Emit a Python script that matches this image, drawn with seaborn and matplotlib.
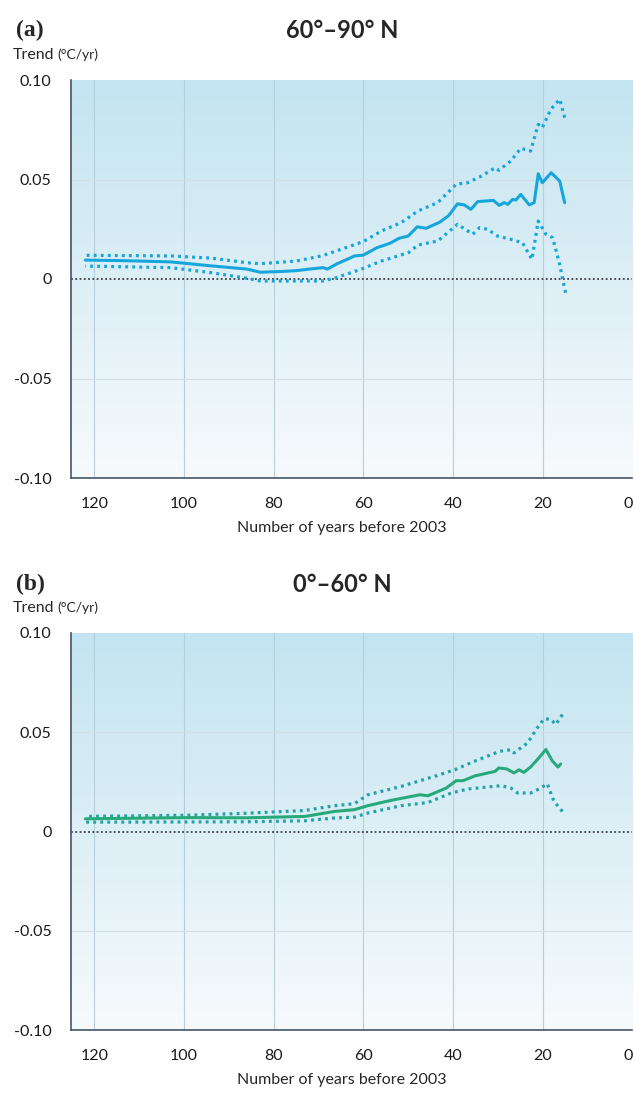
import numpy as np
import matplotlib
matplotlib.use("Agg")
import matplotlib.pyplot as plt
from matplotlib.colors import LinearSegmentedColormap
import seaborn as sns

# ---- data (years before 2003, trend in degC/yr) ----
a_mid_years = [122, 113, 103, 94, 86, 83, 78, 75, 72, 69, 68, 66, 63, 62, 60, 57, 54, 52, 50, 48,
               46, 43, 41, 39, 37.5, 36, 34.5, 31, 29.7, 28.6, 27.8, 26.7, 26, 24.9, 23, 21.9,
               21.0, 20.1, 18.1, 16.2, 15.1]
a_mid = [0.0095, 0.0092, 0.0086, 0.0066, 0.0050, 0.0034, 0.0038, 0.0042, 0.0050, 0.0057, 0.0050,
         0.0075, 0.0105, 0.0116, 0.0120, 0.0157, 0.0180, 0.0205, 0.0216, 0.0262, 0.0255, 0.0285,
         0.0318, 0.0378, 0.0372, 0.0350, 0.0389, 0.0395, 0.0370, 0.0384, 0.0375, 0.0400, 0.0397,
         0.0425, 0.0372, 0.0384, 0.0529, 0.0484, 0.0534, 0.0492, 0.0383]

a_hi_years = [122, 103, 94, 86, 83, 75, 69, 65, 60, 56, 51.6, 47.8, 43.4, 39.3, 36.7, 33.6, 30.6,
              29.8, 27.1, 24.9, 22.7, 21.0, 20.1, 18.2, 16.2, 15.1]
a_hi = [0.0119, 0.0116, 0.0105, 0.0082, 0.0077, 0.0090, 0.0118, 0.0149, 0.0188, 0.0241, 0.0283,
        0.0342, 0.0384, 0.0476, 0.0484, 0.0518, 0.0559, 0.0546, 0.0593, 0.0657, 0.0643, 0.0777,
        0.0760, 0.0853, 0.0903, 0.0811]

a_lo_years = [122, 103, 94, 86, 83, 75, 69, 66, 65, 61, 56, 50, 47.8, 43.4, 39.0, 35.6, 34.1, 32.3,
              30.1, 27.1, 24.5, 22.4, 21.0, 19.3, 17.8, 16.4, 14.9]
a_lo = [0.0065, 0.0057, 0.0032, 0.0004, -0.0010, -0.0010, -0.0010, 0.0007, 0.0015, 0.0045, 0.0090,
        0.0132, 0.0171, 0.0191, 0.0275, 0.0225, 0.0258, 0.0250, 0.0216, 0.0199, 0.0182, 0.0099,
        0.0291, 0.0225, 0.0208, 0.0090, -0.0069]

b_mid_years = [122, 99, 86, 73, 66.5, 62, 59.0, 53.8, 47.4, 45.6, 41.5, 39.3, 37.8, 35.0, 30.6,
               29.8, 28.0, 26.4, 25.3, 24.2, 22.7, 21.2, 19.3, 17.8, 16.6, 16.0]
b_mid = [0.0064, 0.0070, 0.0069, 0.0076, 0.0101, 0.0110, 0.0130, 0.0157, 0.0185, 0.0180, 0.0219,
         0.0256, 0.0256, 0.0281, 0.0303, 0.0320, 0.0315, 0.0295, 0.0311, 0.0298, 0.0325, 0.0362,
         0.0413, 0.0354, 0.0325, 0.0340]

b_hi_years = [122, 99, 86, 73, 66.5, 62, 59.0, 51.6, 44.1, 39.6, 35.2, 29.6, 27.1, 26.4, 23.4,
              21.2, 19.7, 18.2, 17.1, 15.6]
b_hi = [0.0076, 0.0082, 0.0092, 0.0106, 0.0130, 0.0140, 0.0185, 0.0227, 0.0278, 0.0311, 0.0354,
        0.0404, 0.0412, 0.0396, 0.0446, 0.0522, 0.0568, 0.0565, 0.0539, 0.0589]

b_lo_years = [122, 99, 86, 73, 66.5, 62, 59.0, 51.6, 45.6, 40.4, 36.7, 29.3, 27.1, 25.6, 22.7,
              20.4, 19.0, 17.5, 15.6]
b_lo = [0.0047, 0.0048, 0.0049, 0.0054, 0.0068, 0.0072, 0.0093, 0.0130, 0.0146, 0.0194, 0.0214,
        0.0231, 0.0219, 0.0194, 0.0194, 0.0219, 0.0241, 0.0152, 0.0101]

x_ticks = [120, 100, 80, 60, 40, 20, 0]
y_ticks = [0.10, 0.05, 0, -0.05, -0.10]
y_tick_labels = ["0.10", "0.05", "0", "-0.05", "-0.10"]

panels = [
    {"tag": "(a)", "title": "60\u00b0\u201390\u00b0 N",
     "mid": (a_mid_years, a_mid), "hi": (a_hi_years, a_hi), "lo": (a_lo_years, a_lo),
     "solid": "#17a6dc", "dots": "#17a6dc"},
    {"tag": "(b)", "title": "0\u00b0\u201360\u00b0 N",
     "mid": (b_mid_years, b_mid), "hi": (b_hi_years, b_hi), "lo": (b_lo_years, b_lo),
     "solid": "#27a97c", "dots": "#22a3a6"},
]

sns.set_style("white")
plt.rcParams["font.family"] = ["Lato", "DejaVu Sans"]

W, H = 634, 1093
fig = plt.figure(figsize=(W / 100, H / 100), dpi=100)

spine_col = "#44556a"
grid_col = "#b5cfdc"
bg_cmap = LinearSegmentedColormap.from_list("sky", ["#c3e4f1", "#f7fafc"])
XL, XR = 125.2, 0

# pixel boxes of each panel: left, right, top, bottom
boxes = [(71, 632.4, 80, 478), (71, 632.4, 633, 1030)]
text_y = [(30, 55, 528), (584, 608, 1080)]

for p, (l, r, t, b), (ty, uy, xly) in zip(panels, boxes, text_y):
    ax = fig.add_axes([l / W, 1 - b / H, (r - l) / W, (b - t) / H])

    # sky gradient: blue at the top fading to white at the bottom
    grad = np.linspace(0, 1, 256).reshape(-1, 1)
    ax.imshow(grad, extent=[XL, XR, -0.10, 0.10], aspect="auto", cmap=bg_cmap,
              zorder=0, origin="upper")

    for xt in x_ticks[:-1]:
        ax.axvline(xt, color=grid_col, lw=0.8, zorder=1)
    for yt in (0.05, -0.05):
        ax.axhline(yt, color="#d2dfe5", lw=0.8, zorder=1)
    ax.axhline(0, color="#222222", lw=1.1, ls=(0, (1.2, 1.6)), zorder=2)

    sns.lineplot(x=p["hi"][0], y=p["hi"][1], ax=ax, color=p["dots"], lw=2.3,
                 linestyle=(0, (0.9, 1.3)), zorder=3)
    sns.lineplot(x=p["lo"][0], y=p["lo"][1], ax=ax, color=p["dots"], lw=2.3,
                 linestyle=(0, (0.9, 1.3)), zorder=3)
    sns.lineplot(x=p["mid"][0], y=p["mid"][1], ax=ax, color=p["solid"], lw=2.2, zorder=4)

    ax.set_xlim(XL, XR)
    ax.set_ylim(-0.10, 0.10)
    ax.set_xticks(x_ticks)
    ax.set_xticklabels([str(v) for v in x_ticks])
    ax.get_xticklabels()[-1].set_horizontalalignment("right")
    ax.set_yticks(y_ticks)
    ax.set_yticklabels(y_tick_labels)
    ax.tick_params(axis="both", direction="out", length=5, width=1.1, color=spine_col,
                   labelsize=11.5, labelcolor="#1a1a1a")
    ax.tick_params(axis="x", pad=9)
    ax.tick_params(axis="y", pad=9)
    for side in ("top", "right"):
        ax.spines[side].set_visible(False)
    for side in ("left", "bottom"):
        ax.spines[side].set_color(spine_col)
        ax.spines[side].set_linewidth(1.2)
    ax.set_xlabel("")
    ax.set_ylabel("")

    fig.text(16 / W, 1 - ty / H, p["tag"], fontsize=17, fontweight="bold",
             family=["Liberation Serif", "DejaVu Serif"], va="center", ha="left")
    fig.text(342 / W, 1 - ty / H, p["title"], fontsize=17, fontweight="bold",
             va="center", ha="center")
    fig.text(13 / W, 1 - uy / H, "Trend", fontsize=11.5, va="center", ha="left")
    fig.text(57 / W, 1 - uy / H, "(\u00b0C/yr)", fontsize=10, va="center", ha="left")
    fig.text(342 / W, 1 - xly / H, "Number of years before 2003", fontsize=11.5,
             va="center", ha="center")

fig.savefig("out.png", dpi=100)
